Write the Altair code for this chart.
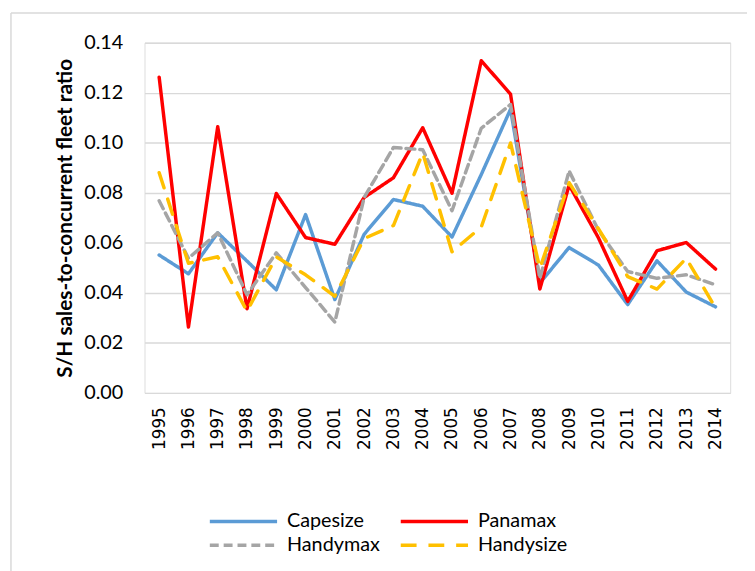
import altair as alt
import pandas as pd

years = [str(y) for y in range(1995, 2015)]
capesize = [0.0551, 0.0476, 0.0640, 0.0527, 0.0412, 0.0713, 0.0373, 0.0634, 0.0773, 0.0746,
            0.0623, 0.0873, 0.1134, 0.0439, 0.0581, 0.0511, 0.0353, 0.0528, 0.0403, 0.0344]
panamax = [0.1262, 0.0263, 0.1064, 0.0336, 0.0797, 0.0621, 0.0594, 0.0781, 0.0860, 0.1060,
           0.0798, 0.1328, 0.1194, 0.0415, 0.0831, 0.0620, 0.0366, 0.0568, 0.0601, 0.0495]
handymax = [0.0768, 0.0538, 0.0640, 0.0392, 0.0560, 0.0421, 0.0283, 0.0781, 0.0981, 0.0972,
            0.0728, 0.1058, 0.1153, 0.0458, 0.0887, 0.0650, 0.0485, 0.0458, 0.0472, 0.0432]
handysize = [0.0880, 0.0518, 0.0544, 0.0327, 0.0544, 0.0472, 0.0386, 0.0617, 0.0669, 0.0959,
             0.0564, 0.0663, 0.0999, 0.0498, 0.0840, 0.0656, 0.0465, 0.0415, 0.0538, 0.0340]
series_names = ["Capesize", "Panamax", "Handymax", "Handysize"]
series_colors = ["#5B9BD5", "#FF0000", "#A5A5A5", "#FFC000"]
series_dashes = [[1, 0], [1, 0], [9, 5], [16, 12]]
y_ticks = [0.0, 0.02, 0.04, 0.06, 0.08, 0.10, 0.12, 0.14]

rows = []
for name, vals in zip(series_names, [capesize, panamax, handymax, handysize]):
    for yr, v in zip(years, vals):
        rows.append({"Year": yr, "Series": name, "Ratio": v})
df = pd.DataFrame(rows)

FONT = "Lato"

legend = alt.Legend(
    title=None, orient="none", legendX=64, legendY=470, columns=2, direction="horizontal",
    values=series_names,
    symbolType="M-1,0L4.667,0", symbolSize=576, symbolStrokeWidth=3.5,
    labelFont=FONT, labelFontSize=20, labelColor="#000000", labelOffset=52,
    columnPadding=14, rowPadding=-1, padding=0,
)

lines = alt.Chart(df).mark_line(strokeWidth=3.5, strokeCap="round", strokeJoin="round").encode(
    x=alt.X("Year:N", sort=years, title=None,
            axis=alt.Axis(labelAngle=-90, labelFont="DejaVu Sans", labelFontSize=17,
                          labelColor="#000000", labelPadding=14, ticks=False,
                          domain=False, grid=False)),
    y=alt.Y("Ratio:Q", scale=alt.Scale(domain=[0, 0.14], nice=False),
            title="S/H sales-to-concurrent fleet ratio",
            axis=alt.Axis(values=y_ticks, format=".2f", labelFont=FONT, labelFontSize=20,
                          labelColor="#000000", labelPadding=22, ticks=False, domain=False,
                          gridColor="#D9D9D9", gridWidth=1.5,
                          titleFont=FONT, titleFontSize=21, titleFontWeight="bold",
                          titleColor="#000000", titlePadding=8)),
    color=alt.Color("Series:N", sort=series_names,
                    scale=alt.Scale(domain=series_names, range=series_colors), legend=legend),
    strokeDash=alt.StrokeDash("Series:N", sort=series_names,
                              scale=alt.Scale(domain=series_names, range=series_dashes),
                              legend=legend),
    order=alt.Order("Year:N"),
)

frame = pd.DataFrame({"k": [0]})
top_border = alt.Chart(frame).mark_rule(color="#D9D9D9", strokeWidth=1.5).encode(
    x=alt.value(-135), x2=alt.value(620), y=alt.value(-30))
left_border = alt.Chart(frame).mark_rule(color="#D9D9D9", strokeWidth=1.5).encode(
    x=alt.value(-135), y=alt.value(-30), y2=alt.value(540))

chart = alt.layer(top_border, left_border, lines).properties(
    width=592, height=354,
    autosize=alt.AutoSizeParams(type="none"),
    padding={"left": 138, "top": 32, "right": 17, "bottom": 177},
).configure_view(stroke=None).configure(background="white")

chart.save("out.html", embed_options={"renderer": "svg", "actions": False})
